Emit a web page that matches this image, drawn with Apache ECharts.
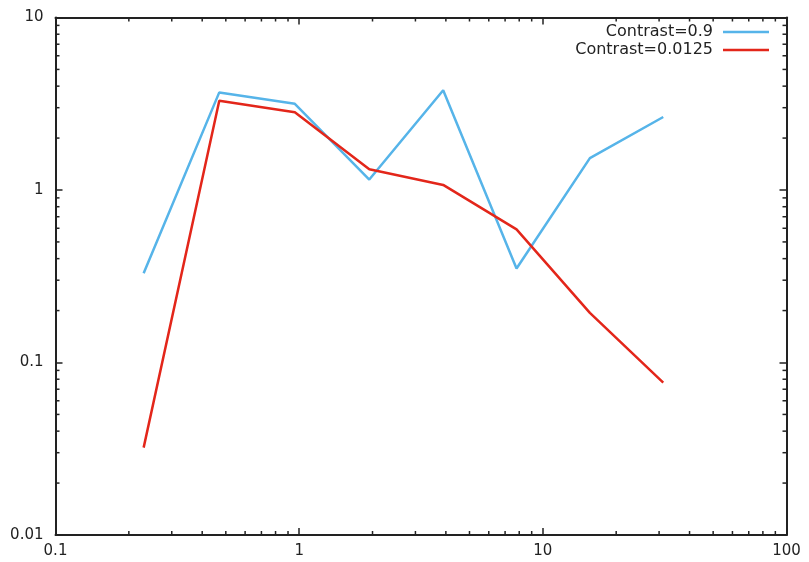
<!DOCTYPE html>
<html>
<head>
<meta charset="utf-8">
<script src="https://cdn.jsdelivr.net/npm/echarts@6/dist/echarts.min.js"></script>
<style>html,body{margin:0;padding:0;background:#fff}#c{width:809px;height:562px}</style>
</head>
<body>
<div id="c"></div>
<script>
const xValues = [0.23, 0.47, 0.96, 1.94, 3.9, 7.8, 15.6, 31.2];
const contrast09 = [0.329, 3.68, 3.16, 1.15, 3.79, 0.351, 1.53, 2.65];
const contrast00125 = [0.0321, 3.29, 2.82, 1.32, 1.07, 0.591, 0.194, 0.0764];
const seriesNames = ['Contrast=0.9', 'Contrast=0.0125'];
const xMinorTicks = [0.2,0.3,0.4,0.5,0.6,0.7,0.8,0.9,2,3,4,5,6,7,8,9,20,30,40,50,60,70,80,90];
const yMinorTicks = [0.02,0.03,0.04,0.05,0.06,0.07,0.08,0.09,0.2,0.3,0.4,0.5,0.6,0.7,0.8,0.9,2,3,4,5,6,7,8,9];

const FONT = 'DejaVu Sans';
const AXC = '#222';
const BLUE = '#56b4e9';
const RED = '#e3261a';

function minorTickRender(params, api) {
  const cs = params.coordSys;
  const kind = api.value(2);
  const L = 4;
  const st = { stroke: AXC, lineWidth: 1.5 };
  if (kind === 0) {
    const px = api.coord([api.value(0), 1])[0];
    return { type: 'group', children: [
      { type: 'line', shape: { x1: px, y1: cs.y + cs.height, x2: px, y2: cs.y + cs.height - L }, style: st },
      { type: 'line', shape: { x1: px, y1: cs.y, x2: px, y2: cs.y + L }, style: st }
    ]};
  } else {
    const py = api.coord([1, api.value(1)])[1];
    return { type: 'group', children: [
      { type: 'line', shape: { x1: cs.x, y1: py, x2: cs.x + L, y2: py }, style: st },
      { type: 'line', shape: { x1: cs.x + cs.width, y1: py, x2: cs.x + cs.width - L, y2: py }, style: st }
    ]};
  }
}

const minorData = xMinorTicks.map(v => [v, 1, 0]).concat(yMinorTicks.map(v => [1, v, 1]));

const axisCommon = {
  type: 'log', logBase: 10,
  axisLine: { show: true, lineStyle: { color: AXC, width: 2 } },
  axisTick: { show: true, inside: true, length: 7, lineStyle: { color: AXC, width: 1.5 } },
  splitLine: { show: false },
  minorTick: { show: false }
};

const legendCommon = {
  orient: 'vertical', right: 40, align: 'right', padding: 0,
  icon: 'rect', itemWidth: 46, itemHeight: 2.5,
  textStyle: { fontFamily: FONT, fontSize: 16, color: AXC, padding: [0, 5, 0, 0], lineHeight: 16 }
};

const chart = echarts.init(document.getElementById('c'), null, { renderer: 'canvas' });
chart.setOption({
  animation: false,
  backgroundColor: '#fff',
  grid: { left: 55.5, right: 22.5, top: 17.5, bottom: 27, containLabel: false },
  legend: [
    Object.assign({}, legendCommon, { data: [seriesNames[0]], top: 24 }),
    Object.assign({}, legendCommon, { data: [seriesNames[1]], top: 42 })
  ],
  xAxis: [
    Object.assign({}, axisCommon, { min: 0.1, max: 100, position: 'bottom',
      axisLabel: { show: true, fontFamily: FONT, fontSize: 15, color: AXC, margin: 9 } }),
    Object.assign({}, axisCommon, { min: 0.1, max: 100, position: 'top', axisLabel: { show: false } })
  ],
  yAxis: [
    Object.assign({}, axisCommon, { min: 0.01, max: 10, position: 'left',
      axisLabel: { show: true, fontFamily: FONT, fontSize: 15, color: AXC, margin: 12 } }),
    Object.assign({}, axisCommon, { min: 0.01, max: 10, position: 'right', axisLabel: { show: false } })
  ],
  series: [
    { name: seriesNames[0], type: 'line', symbol: 'none', xAxisIndex: 0, yAxisIndex: 0,
      data: xValues.map((x, i) => [x, contrast09[i]]),
      lineStyle: { color: BLUE, width: 2.5 }, itemStyle: { color: BLUE } },
    { name: seriesNames[1], type: 'line', symbol: 'none', xAxisIndex: 0, yAxisIndex: 0,
      data: xValues.map((x, i) => [x, contrast00125[i]]),
      lineStyle: { color: RED, width: 2.5 }, itemStyle: { color: RED } },
    { name: 'minorTicks', type: 'custom', xAxisIndex: 0, yAxisIndex: 0, silent: true,
      renderItem: minorTickRender, data: minorData, clip: false }
  ]
});
</script>
</body>
</html>
